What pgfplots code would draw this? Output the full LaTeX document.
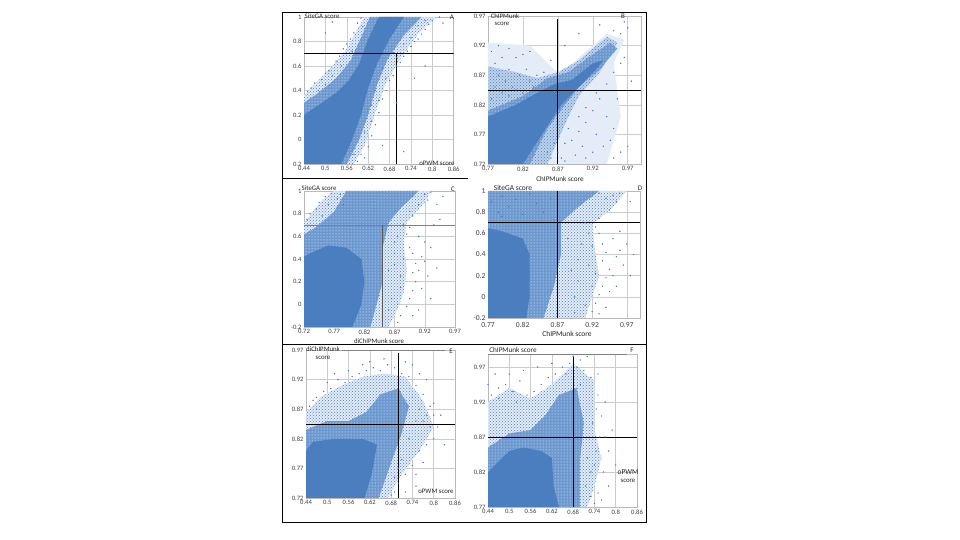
\documentclass[border=0pt]{standalone}
\usepackage{fontspec}
\setmainfont{Carlito}
\usepackage{pgfplots}
\usetikzlibrary{patterns}
\pgfplotsset{compat=1.18}
\definecolor{core}{HTML}{4A7EBF}
\definecolor{midb}{HTML}{6C98D0}
\definecolor{halo}{HTML}{BDD2EB}
\definecolor{faint}{HTML}{E3ECF7}
\definecolor{dotb}{HTML}{3F74B6}
\pgfplotsset{
 panel/.style={scale only axis,axis line style={gray!55,line width=.5pt},tick style={draw=none},
  grid=major,grid style={gray!40,line width=.5pt},
  tick label style={font=\fontsize{6.6}{7}\selectfont,text=black!75},
  xticklabel style={yshift=1pt},yticklabel style={xshift=1pt},
  clip=true},
 env/.style={draw=none,fill=#1,forget plot},
 spk/.style={draw=none,fill=#1,forget plot,postaction={pattern=crosshatch dots,pattern color=core}},
 hol/.style={draw=none,fill=#1,forget plot,postaction={pattern=dots,pattern color=white}},
 pts/.style={only marks,mark=*,mark size=.42pt,color=dotb,mark options={draw=none,fill=dotb},forget plot},
 blk/.style={black,line width=.9pt,forget plot},
}
\newcommand\lab[4][6.8]{\node[font=\fontsize{#1}{8}\selectfont,text=black!85,inner sep=0pt] at (#2pt,540pt-#3pt) {#4};}
\begin{document}
\begin{tikzpicture}
\path[fill=white] (0pt,0pt) rectangle (960pt,540pt);
% ---------- A
\begin{axis}[panel,at={(304pt,376pt)},anchor=south west,width=149.7pt,height=147pt,
 xmin=.44,xmax=.86,ymin=-.2,ymax=1,
 xtick={.44,.5,.56,.62,.68,.74,.8,.86},xticklabels={0.44,0.5,0.56,0.62,0.68,0.74,0.8,0.86},
 ytick={-.2,0,.2,.4,.6,.8,1},yticklabels={0.2,0,0.2,0.4,0.6,0.8,1}]
\addplot[spk=faint] coordinates {(.44,.36)(.48,.48)(.52,.6)(.56,.74)(.59,.9)(.61,1)(.81,1)(.76,.86)(.71,.66)(.67,.46)(.64,.22)(.61,-.05)(.58,-.2)(.44,-.2)} --cycle;
\addplot[hol=midb] coordinates {(.44,.3)(.48,.38)(.53,.5)(.57,.64)(.595,.8)(.625,1)(.77,1)(.72,.85)(.675,.66)(.645,.45)(.62,.2)(.595,0)(.56,-.2)(.44,-.2)} --cycle;
\addplot[env=core] coordinates {(.44,-.2)(.545,-.2)(.575,0)(.60,.2)(.62,.42)(.645,.62)(.68,.82)(.72,1)(.65,1)(.62,.82)(.595,.62)(.565,.48)(.53,.38)(.48,.28)(.44,.2)} --cycle;
\addplot[pts] coordinates {(.45,.39)(.46,.42)(.47,.46)(.49,.49)(.5,.54)(.51,.56)(.53,.64)(.54,.68)(.55,.74)(.56,.78)(.57,.82)(.58,.87)(.59,.95)(.6,.99)(.605,.92)(.575,.72)(.545,.6)(.52,.52)(.5,.45)(.48,.4)(.63,.03)(.64,.12)(.65,.22)(.66,.33)(.67,.4)(.68,.48)(.69,.52)(.7,.6)(.71,.63)(.72,.68)(.73,.72)(.74,.76)(.75,.8)(.76,.82)(.77,.86)(.78,.9)(.79,.94)(.8,.97)(.82,1)(.83,.95)(.62,-.06)(.61,-.15)(.6,-.12)(.59,-.18)(.65,.32)(.67,.5)(.7,.67)(.74,.83)(.78,.97)(.76,.93)(.72,.78)(.64,.4)(.63,.28)(.58,-.12)(.61,.06)(.63,.15)(.66,.58)(.69,.71)(.5,.87)(.52,.96)(.7,.3)(.75,.5)(.72,-.1)(.66,-.05)(.78,.6)}; 
\addplot[blk] coordinates {(.44,.7)(.86,.7)};
\addplot[blk] coordinates {(.70,.7)(.70,-.2)};
\end{axis}
% ---------- B
\begin{axis}[panel,at={(488pt,376pt)},anchor=south west,width=153pt,height=148pt,
 xmin=.77,xmax=.989,ymin=.72,ymax=.97,
 xtick={.77,.82,.87,.92,.97},xticklabels={0.77,0.82,0.87,0.92,0.97},
 ytick={.72,.77,.82,.87,.92,.97},yticklabels={0.72,0.77,0.82,0.87,0.92,0.97}]
\addplot[env=faint] coordinates {(.77,.925)(.83,.92)(.86,.885)(.875,.87)(.90,.90)(.94,.94)(.965,.93)(.95,.89)(.96,.80)(.94,.72)(.77,.72)} --cycle;
\addplot[spk=halo] coordinates {(.77,.885)(.81,.875)(.84,.865)(.87,.875)(.90,.895)(.94,.935)(.955,.925)(.93,.875)(.90,.835)(.885,.80)(.87,.76)(.855,.72)(.77,.72)} --cycle;
\addplot[hol=midb] coordinates {(.77,.81)(.82,.835)(.855,.865)(.885,.875)(.92,.905)(.945,.925)(.955,.915)(.93,.88)(.90,.85)(.88,.82)(.855,.78)(.83,.72)(.77,.72)} --cycle;
\addplot[env=core] coordinates {(.77,.72)(.82,.72)(.85,.775)(.875,.82)(.90,.85)(.925,.88)(.935,.895)(.92,.89)(.89,.862)(.865,.855)(.84,.84)(.81,.82)(.77,.80)} --cycle;
\addplot[pts] coordinates {(.775,.91)(.78,.89)(.785,.87)(.79,.90)(.795,.86)(.80,.88)(.805,.85)(.81,.90)(.815,.87)(.82,.84)(.825,.88)(.83,.86)(.835,.85)(.84,.87)(.85,.875)(.78,.85)(.775,.83)(.79,.84)(.80,.835)(.81,.845)(.785,.92)(.82,.905)(.86,.895)(.88,.92)(.90,.94)(.93,.955)(.95,.945)(.96,.94)(.965,.96)(.97,.95)(.885,.78)(.89,.76)(.90,.80)(.905,.75)(.91,.79)(.92,.81)(.925,.77)(.93,.83)(.94,.80)(.945,.76)(.95,.78)(.955,.83)(.96,.74)(.87,.74)(.875,.73)(.88,.725)(.895,.735)(.91,.73)(.92,.74)(.935,.75)(.95,.73)(.97,.75)(.86,.73)(.855,.74)(.865,.755)(.88,.755)(.90,.775)(.91,.815)(.925,.84)(.94,.855)(.95,.875)(.96,.89)(.965,.90)(.975,.86)(.83,.91)(.80,.915)}; 
\addplot[blk] coordinates {(.77,.845)(.989,.845)};
\addplot[blk] coordinates {(.87,.72)(.87,.965)};
\end{axis}
% ---------- C
\begin{axis}[panel,at={(304pt,213pt)},anchor=south west,width=151pt,height=136pt,
 xmin=.72,xmax=.97,ymin=-.2,ymax=1,
 xtick={.72,.77,.82,.87,.92,.97},xticklabels={0.72,0.77,0.82,0.87,0.92,0.97},
 ytick={-.2,0,.2,.4,.6,.8,1},yticklabels={-0.2,0,0.2,0.4,0.6,0.8,1}]
\addplot[spk=faint] coordinates {(.72,.72)(.735,.82)(.75,.92)(.77,1)(.93,1)(.92,.9)(.89,.72)(.885,.55)(.89,.3)(.885,.1)(.87,-.1)(.86,-.2)(.72,-.2)} --cycle;
\addplot[hol=midb] coordinates {(.72,.62)(.74,.68)(.77,.82)(.79,1)(.91,1)(.88,.85)(.86,.72)(.85,.5)(.85,.2)(.84,0)(.83,-.2)(.72,-.2)} --cycle;
\addplot[env=core] coordinates {(.72,-.2)(.80,-.2)(.815,0)(.82,.2)(.815,.4)(.79,.5)(.76,.52)(.73,.45)(.72,.42)} --cycle;
\addplot[pts] coordinates {(.725,.75)(.73,.8)(.74,.84)(.745,.9)(.755,.95)(.76,.88)(.765,.98)(.75,.78)(.775,.93)(.78,.97)(.785,.88)(.90,.95)(.91,.88)(.92,.97)(.925,.92)(.93,.99)(.90,.78)(.895,.68)(.89,.62)(.895,.5)(.90,.45)(.905,.36)(.90,.28)(.905,.2)(.90,.12)(.895,.05)(.89,-.02)(.88,-.1)(.875,-.16)(.91,.6)(.915,.42)(.91,.3)(.92,.38)(.925,.25)(.915,.14)(.92,.55)(.93,.5)(.94,.32)(.935,.7)(.895,.82)(.93,.05)(.90,-.1)(.91,-.05)(.885,.4)(.88,.25)(.885,.7)(.875,.6)(.87,.45)(.88,.15)(.865,.05)(.87,.35)(.86,-.05)(.85,-.15)(.87,.55)(.86,.3)(.875,0)(.94,.88)(.95,.95)(.945,.75)}; 
\addplot[gray,line width=.7pt,forget plot] coordinates {(.72,.7)(.97,.7)};
\addplot[gray!70!black,line width=.7pt,forget plot] coordinates {(.85,.7)(.85,-.2)};
\end{axis}
% ---------- D
\begin{axis}[panel,at={(488pt,222pt)},anchor=south west,width=152pt,height=127pt,
 tick label style={font=\fontsize{7.6}{8}\selectfont},xticklabel style={yshift=-2pt},
 xmin=.77,xmax=.989,ymin=-.2,ymax=1,
 xtick={.77,.82,.87,.92,.97},xticklabels={0.77,0.82,0.87,0.92,0.97},
 ytick={-.2,0,.2,.4,.6,.8,1},yticklabels={-0.2,0,0.2,0.4,0.6,0.8,1}]
\addplot[spk=faint] coordinates {(.77,1)(.97,1)(.95,.85)(.92,.68)(.925,.4)(.93,.2)(.92,0)(.91,-.2)(.77,-.2)} --cycle;
\addplot[hol=midb] coordinates {(.77,-.2)(.85,-.2)(.865,.1)(.875,.4)(.875,.7)(.90,.85)(.93,1)(.77,1)} --cycle;
\addplot[env=core] coordinates {(.77,-.2)(.825,-.2)(.83,0)(.83,.2)(.83,.4)(.82,.55)(.79,.62)(.77,.65)} --cycle;
\addplot[pts] coordinates {(.775,.9)(.785,.8)(.79,.95)(.80,.85)(.81,.92)(.82,.78)(.83,.97)(.84,.88)(.85,.8)(.86,.93)(.79,.76)(.93,.98)(.94,.93)(.95,.96)(.955,.9)(.96,.98)(.945,.82)(.93,.74)(.925,.66)(.93,.6)(.935,.5)(.94,.42)(.935,.34)(.945,.26)(.94,.18)(.935,.1)(.93,.02)(.925,-.06)(.92,-.14)(.95,.55)(.955,.38)(.96,.44)(.95,.2)(.955,.1)(.965,.3)(.97,.5)(.96,.62)(.945,.05)(.94,-.1)(.93,-.16)(.915,.6)(.92,.48)(.915,.3)(.925,.22)(.92,.1)(.91,-.08)(.90,.35)(.905,.5)(.91,.7)(.90,.15)(.895,0)(.89,.25)(.885,.55)(.895,-.15)(.975,.2)(.98,.4)(.975,.9)}; 
\addplot[blk] coordinates {(.77,.7)(.989,.7)};
\addplot[blk] coordinates {(.87,-.2)(.87,1)};
\end{axis}
% ---------- E
\begin{axis}[panel,at={(306pt,42pt)},anchor=south west,width=149pt,height=148pt,
 xmin=.44,xmax=.86,ymin=.72,ymax=.97,
 xtick={.44,.5,.56,.62,.68,.74,.8,.86},xticklabels={0.44,0.5,0.56,0.62,0.68,0.74,0.8,0.86},
 ytick={.72,.77,.82,.87,.92,.97},yticklabels={0.72,0.77,0.82,0.87,0.92,0.97}]
\addplot[spk=faint] coordinates {(.44,.865)(.48,.89)(.54,.91)(.60,.925)(.66,.93)(.72,.925)(.77,.885)(.80,.84)(.76,.80)(.71,.76)(.67,.72)(.44,.72)} --cycle;
\addplot[hol=midb] coordinates {(.44,.835)(.50,.85)(.56,.85)(.61,.865)(.65,.895)(.70,.905)(.73,.875)(.71,.83)(.68,.78)(.645,.72)(.44,.72)} --cycle;
\addplot[env=core] coordinates {(.44,.72)(.605,.72)(.625,.76)(.64,.81)(.60,.82)(.52,.82)(.46,.815)(.44,.80)} --cycle;
\addplot[pts] coordinates {(.45,.875)(.47,.89)(.49,.90)(.51,.905)(.53,.92)(.55,.915)(.57,.925)(.59,.93)(.61,.935)(.63,.94)(.65,.935)(.67,.945)(.69,.94)(.71,.93)(.73,.925)(.75,.91)(.77,.895)(.79,.875)(.80,.86)(.81,.84)(.79,.84)(.78,.81)(.76,.80)(.74,.775)(.72,.76)(.70,.745)(.69,.73)(.72,.73)(.75,.76)(.77,.78)(.80,.82)(.83,.81)(.75,.74)(.68,.725)(.74,.945)(.76,.93)(.78,.92)(.52,.93)(.56,.935)(.60,.945)(.47,.87)(.46,.885)(.50,.915)(.75,.85)(.76,.87)(.74,.89)(.77,.85)(.73,.82)(.71,.785)(.70,.77)(.69,.755)(.78,.86)(.80,.88)(.72,.95)(.66,.955)(.62,.95)(.82,.86)}; 
\addplot[blk] coordinates {(.44,.845)(.86,.845)};
\addplot[blk] coordinates {(.70,.72)(.70,.965)};
\end{axis}
% ---------- F
\begin{axis}[panel,at={(488pt,33pt)},anchor=south west,width=149pt,height=153pt,
 xmin=.44,xmax=.86,ymin=.77,ymax=.9886,
 xtick={.44,.5,.56,.62,.68,.74,.8,.86},xticklabels={0.44,0.5,0.56,0.62,0.68,0.74,0.8,0.86},
 ytick={.77,.82,.87,.92,.97},yticklabels={0.77,0.82,0.87,0.92,0.97}]
\addplot[spk=faint] coordinates {(.44,.92)(.50,.94)(.56,.925)(.62,.945)(.68,.975)(.74,.95)(.74,.88)(.76,.84)(.74,.80)(.72,.77)(.44,.77)} --cycle;
\addplot[hol=midb] coordinates {(.44,.855)(.50,.875)(.56,.88)(.60,.90)(.64,.93)(.69,.94)(.71,.89)(.70,.84)(.70,.77)(.44,.77)} --cycle;
\addplot[env=core] coordinates {(.44,.77)(.64,.77)(.625,.80)(.62,.84)(.59,.85)(.54,.855)(.50,.85)(.46,.83)(.44,.82)} --cycle;
\addplot[pts] coordinates {(.45,.93)(.47,.94)(.49,.945)(.51,.935)(.53,.95)(.55,.93)(.57,.935)(.59,.945)(.61,.955)(.63,.96)(.65,.97)(.67,.975)(.69,.97)(.71,.965)(.73,.955)(.75,.93)(.76,.90)(.77,.87)(.78,.85)(.765,.82)(.75,.79)(.76,.78)(.74,.775)(.73,.785)(.78,.80)(.80,.83)(.79,.88)(.77,.92)(.75,.96)(.70,.98)(.68,.985)(.46,.96)(.50,.96)(.54,.965)(.58,.97)(.62,.975)(.66,.96)(.72,.985)(.745,.85)(.755,.87)(.745,.91)(.735,.89)(.72,.84)(.73,.82)(.715,.80)(.74,.83)(.70,.945)(.44,.945)(.52,.92)(.47,.925)}; 
\addplot[blk] coordinates {(.44,.87)(.86,.87)};
\addplot[blk] coordinates {(.68,.77)(.68,.985)};
\end{axis}
% overlays
\draw[black,line width=.9pt] (282pt,528pt) rectangle (646pt,18pt);
\draw[black,line width=.9pt] (282pt,362pt) -- (468pt,362pt);
\draw[black,line width=.9pt] (282pt,196pt) -- (646pt,196pt);
\draw[gray,line width=.6pt] (342pt,190pt) -- (445pt,190pt);
\draw[gray,line width=.6pt] (488pt,186pt) -- (627pt,186pt);
\lab{322}{16}{SiteGA score}\lab[7]{452}{17}{A}\lab{437}{163}{oPWM score}
\lab{505}{16}{ChIPMunk}\lab{502}{24}{score}\lab[7]{623}{16}{B}\lab[7.2]{560}{179}{ChIPMunk score}
\lab{319}{188}{SiteGA score}\lab[7]{453}{189}{C}\lab{379}{341}{diChIPMunk score}
\lab[7.5]{513}{188}{SiteGA score}\lab[7]{640}{188}{D}\lab[7.5]{567}{334}{ChIPMunk score}
\lab{323}{349}{diChIPMunk}\lab{323}{358}{score}\lab[7]{451}{351}{E}\lab{436}{491}{oPWM score}
\lab[7.2]{513}{350}{ChIPMunk score}\lab[7]{632}{350}{F}\lab[7.5]{628}{472}{oPWM}\lab{628}{481}{score}
\end{tikzpicture}
\end{document}
